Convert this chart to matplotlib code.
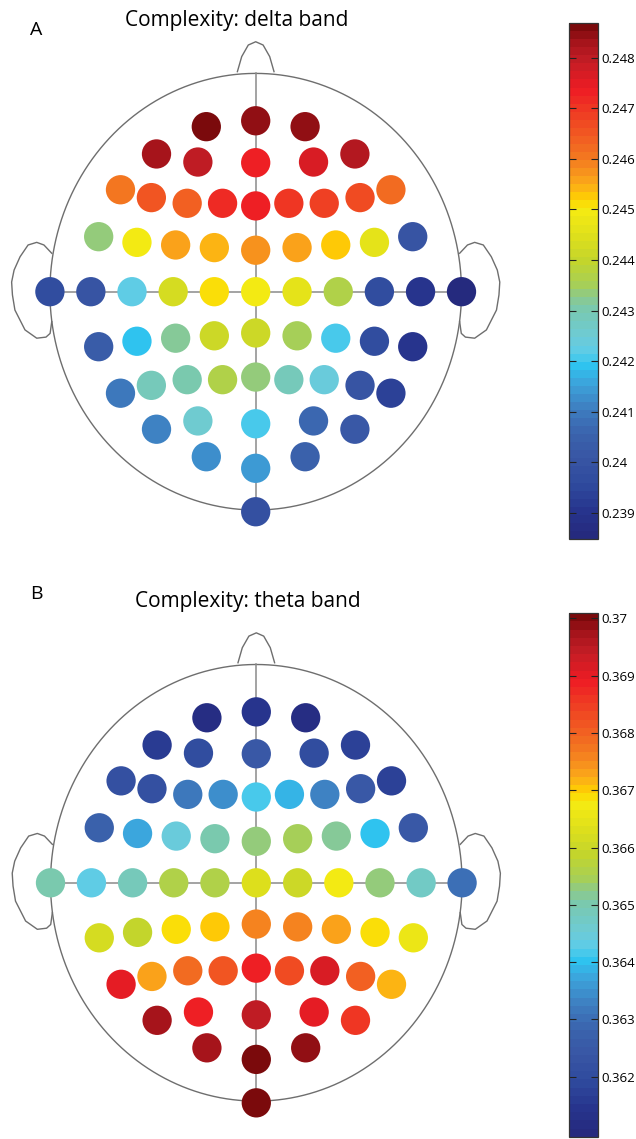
import numpy as np
import matplotlib
matplotlib.use('Agg')
import matplotlib.pyplot as plt
from matplotlib.colors import LinearSegmentedColormap, Normalize
from matplotlib.cm import ScalarMappable
from matplotlib.ticker import FormatStrFormatter

plt.rcParams['font.family'] = ['Open Sans', 'DejaVu Sans']

# 64 channel montage in head units (nose up, head radius = 1)
elec_x = [-0.24, 0, 0.24,
          -0.482, -0.281, 0, 0.281, 0.482,
          -0.657, -0.507, -0.333, -0.161, 0, 0.161, 0.333, 0.507, 0.657,
          -0.763, -0.577, -0.389, -0.201, 0, 0.201, 0.389, 0.577, 0.763,
          -1.0, -0.801, -0.601, -0.401, -0.201, 0, 0.201, 0.401, 0.601, 0.801, 1.0,
          -0.763, -0.577, -0.389, -0.201, 0, 0.201, 0.389, 0.577, 0.763,
          -0.657, -0.507, -0.333, -0.161, 0, 0.161, 0.333, 0.507, 0.657,
          -0.482, -0.281, 0, 0.281, 0.482,
          -0.24, 0, 0.24,
          0]
elec_y = [0.756, 0.783, 0.756,
          0.631, 0.594, 0.591, 0.594, 0.631,
          0.467, 0.431, 0.405, 0.405, 0.393, 0.405, 0.405, 0.431, 0.467,
          0.252, 0.226, 0.214, 0.202, 0.190, 0.202, 0.214, 0.226, 0.252,
          0, 0, 0, 0, 0, 0, 0, 0, 0, 0, 0,
          -0.252, -0.227, -0.213, -0.202, -0.189, -0.202, -0.213, -0.227, -0.252,
          -0.465, -0.429, -0.403, -0.403, -0.391, -0.403, -0.403, -0.429, -0.465,
          -0.630, -0.592, -0.605, -0.592, -0.630,
          -0.756, -0.809, -0.756,
          -1.008]

delta_vals = [0.24865, 0.2485, 0.2484,
              0.2483, 0.2480, 0.2474, 0.2477, 0.2482,
              0.2460, 0.2465, 0.2463, 0.2471, 0.2473, 0.2470, 0.2469, 0.2467, 0.2462,
              0.2433, 0.2450, 0.2456, 0.24535, 0.2458, 0.2456, 0.2452, 0.2446, 0.2400,
              0.2396, 0.2400, 0.2422, 0.2443, 0.2451, 0.2450, 0.2447, 0.2437, 0.2397, 0.2390, 0.2386,
              0.2403, 0.2419, 0.2432, 0.2442, 0.2441, 0.2435, 0.2421, 0.2397, 0.2391,
              0.2410, 0.2429, 0.2431, 0.2436, 0.2434, 0.2428, 0.2424, 0.2400, 0.2393,
              0.2411, 0.2426, 0.2420, 0.2407, 0.2401,
              0.2413, 0.2415, 0.2404,
              0.2398]
theta_vals = [0.36122, 0.36141, 0.36113,
              0.36159, 0.36205, 0.36241, 0.36205, 0.36177,
              0.36223, 0.36214, 0.36314, 0.36351, 0.36419, 0.36387, 0.36333, 0.36250, 0.36177,
              0.36278, 0.36369, 0.36447, 0.36506, 0.36525, 0.36543, 0.36515, 0.36406, 0.36250,
              0.36497, 0.36433, 0.36488, 0.36552, 0.36552, 0.36634, 0.36598, 0.36680, 0.36534, 0.36470, 0.36305,
              0.36616, 0.36593, 0.36685, 0.36703, 0.36762, 0.36753, 0.36735, 0.36694, 0.36653,
              0.36897, 0.36726, 0.36781, 0.36817, 0.36881, 0.36835, 0.36918, 0.36799, 0.36712,
              0.36968, 0.36890, 0.36940, 0.36899, 0.36854,
              0.36972, 0.36995, 0.36986,
              0.37007]

delta_range = (0.23848, 0.24869)
theta_range = (0.36095, 0.37009)
delta_ticks = [0.239, 0.240, 0.241, 0.242, 0.243, 0.244, 0.245, 0.246, 0.247, 0.248]
theta_ticks = [0.362, 0.363, 0.364, 0.365, 0.366, 0.367, 0.368, 0.369, 0.370]

stops = [(0.0, '#252a7e'), (0.05, '#27358e'), (0.10, '#2f4a9d'), (0.15, '#3856a4'),
         (0.20, '#3b63ad'), (0.25, '#3e7fc1'), (0.30, '#3ca5dc'), (0.335, '#2ec4f0'),
         (0.36, '#5ccce8'), (0.385, '#6ccbd8'), (0.443, '#79c9b0'), (0.47, '#8dc98a'),
         (0.49, '#a5cf5a'), (0.54, '#c3d52c'), (0.59, '#dfe01b'), (0.64, '#f5eb12'),
         (0.66, '#ffd200'), (0.69, '#fbaa19'), (0.737, '#f47c20'), (0.786, '#f15a22'),
         (0.835, '#ef3a23'), (0.877, '#ee1c24'), (0.933, '#c21d25'), (0.967, '#a8141c'),
         (1.0, '#7b0a0c')]
cmap = LinearSegmentedColormap.from_list('cplx', stops, N=64)

W, H = 636, 1139
fig = plt.figure(figsize=(W / 100, H / 100), dpi=100)

RX, RY = 205.8, 218.3   # head radii in pixels

ear_x = [-0.991, -1.029, -1.064, -1.106, -1.145, -1.174, -1.186, -1.182, -1.170,
         -1.121, -1.064, -1.019, -0.999, -0.991]
ear_y = [0.176, 0.214, 0.226, 0.214, 0.160, 0.099, 0.044, -0.015, -0.084,
         -0.175, -0.213, -0.208, -0.191, -0.137]
nose_x = [-0.089, -0.068, -0.036, 0, 0.036, 0.068, 0.089]
nose_y = [1.008, 1.077, 1.130, 1.145, 1.130, 1.077, 1.008]


def head(cx, cy, vals, vrange, ticks, cb_top, cb_bot, title, tx, ty, letter, ly):
    ax = fig.add_axes([0, 1 - (cy + 262) / H, 520 / W, 524 / H])
    ax.set_xlim(-cx / RX, (520 - cx) / RX)
    ax.set_ylim(-262 / RY, 262 / RY)
    ax.axis('off')
    t = np.linspace(0, 2 * np.pi, 400)
    lc = '#6e6e6e'
    ax.plot(np.cos(t), np.sin(t), color=lc, lw=1.0, zorder=1)
    ax.plot(ear_x, ear_y, color=lc, lw=1.0, zorder=1)
    ax.plot([-v for v in ear_x], ear_y, color=lc, lw=1.0, zorder=1)
    ax.plot(nose_x, nose_y, color=lc, lw=1.0, zorder=1)
    ax.plot([-1, 1], [0, 0], color='#8a8a8a', lw=1.1, zorder=1)
    ax.plot([0, 0], [-1, 1], color='#8a8a8a', lw=1.1, zorder=1)
    norm = Normalize(*vrange)
    ax.scatter(elec_x, elec_y, c=vals, cmap=cmap, norm=norm, s=445,
               edgecolors='none', zorder=3)

    cax = fig.add_axes([568.5 / W, 1 - cb_bot / H, 29 / W, (cb_bot - cb_top) / H])
    cb = fig.colorbar(ScalarMappable(norm=norm, cmap=cmap), cax=cax, ticks=ticks)
    cb.ax.yaxis.set_major_formatter(FormatStrFormatter('%g'))
    cb.ax.tick_params(direction='in', length=5, width=0.8, left=True, right=True,
                      labelsize=9.5, pad=3, colors='#222222', labelcolor='black')
    cb.outline.set_linewidth(0.9)
    cb.outline.set_edgecolor('#333333')

    fig.text(tx / W, 1 - ty / H, title, ha='center', va='center', fontsize=15)
    fig.text(36 / W, 1 - ly / H, letter, ha='center', va='center', fontsize=14)


head(255.7, 291.7, delta_vals, delta_range, delta_ticks, 23, 539,
     'Complexity: delta band', 236.7, 20.7, 'A', 30)
head(256.3, 882.8, theta_vals, theta_range, theta_ticks, 613.3, 1136.7,
     'Complexity: theta band', 247.7, 601.7, 'B', 594)

fig.savefig('out.png', dpi=100)
